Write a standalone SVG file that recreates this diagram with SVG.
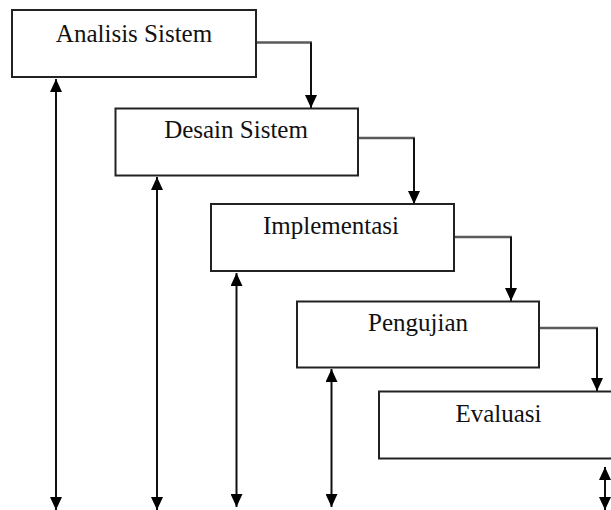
<svg xmlns="http://www.w3.org/2000/svg" width="611" height="510" viewBox="0 0 611 510">
<style>
.box{fill:#fff;stroke:#222;stroke-width:2}
.lbl{font-family:"Liberation Serif","Times New Roman",serif;font-size:25px;fill:#111;text-anchor:middle}
.con{fill:none;stroke:#111;stroke-width:2}
.h{stroke:#5a5a5a;stroke-width:2.5}
</style>
<defs>
<marker id="ah" markerUnits="userSpaceOnUse" markerWidth="13" markerHeight="12" refX="13" refY="6" orient="auto-start-reverse" viewBox="0 0 13 12">
<path d="M0,0 L13,6 L0,12 z" fill="#000"/>
</marker>
</defs>
<g id="connectors">
<path class="con h" d="M256,42.5 H312"/>
<path class="con" d="M311,42.5 V108" marker-end="url(#ah)"/>
<path class="con h" d="M358,138 H415"/>
<path class="con" d="M414,138 V204" marker-end="url(#ah)"/>
<path class="con h" d="M454,237 H512"/>
<path class="con" d="M511,237 V301" marker-end="url(#ah)"/>
<path class="con h" d="M539,328 H598"/>
<path class="con" d="M597,328 V391" marker-end="url(#ah)"/>
<path class="con" d="M56,79 V510" marker-start="url(#ah)" marker-end="url(#ah)"/>
<path class="con" d="M157,177 V510" marker-start="url(#ah)" marker-end="url(#ah)"/>
<path class="con" d="M236.5,273 V507" marker-start="url(#ah)" marker-end="url(#ah)"/>
<path class="con" d="M331.5,369 V507" marker-start="url(#ah)" marker-end="url(#ah)"/>
<path class="con" d="M605,467 V510" marker-start="url(#ah)" marker-end="url(#ah)"/>
</g>
<g id="analisis">
<rect class="box" x="12" y="10" width="244" height="67"/>
<text class="lbl" x="134" y="41.5">Analisis Sistem</text>
</g>
<g id="desain">
<rect class="box" x="115.5" y="108.5" width="242.5" height="67"/>
<text class="lbl" x="236" y="137.5">Desain Sistem</text>
</g>
<g id="implementasi">
<rect class="box" x="211" y="204" width="243" height="67"/>
<text class="lbl" x="331" y="233.5">Implementasi</text>
</g>
<g id="pengujian">
<rect class="box" x="297" y="301.5" width="242" height="66"/>
<text class="lbl" x="418" y="330.5">Pengujian</text>
</g>
<g id="evaluasi">
<rect class="box" x="379" y="391.5" width="240" height="67"/>
<text class="lbl" x="498.5" y="422">Evaluasi</text>
</g>
</svg>
